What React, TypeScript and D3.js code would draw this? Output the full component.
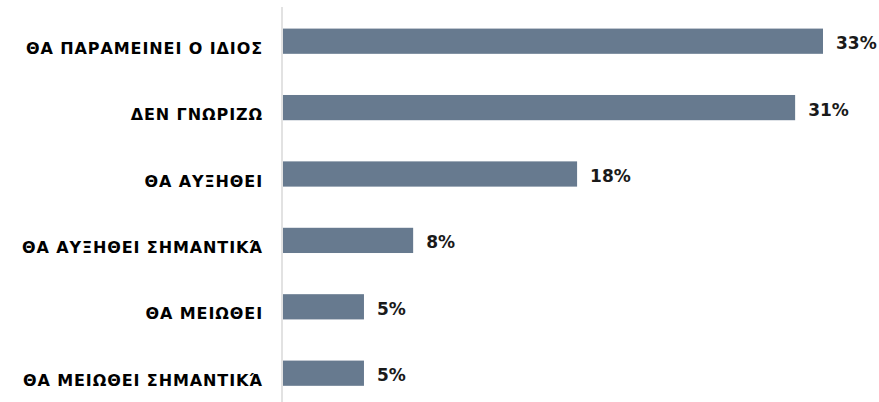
import * as d3 from "d3";

// answer categories, top to bottom
const categories = [
  "ΘΑ ΠΑΡΑΜΕΙΝΕΙ Ο ΙΔΙΟΣ",
  "ΔΕΝ ΓΝΩΡΙΖΩ",
  "ΘΑ ΑΥΞΗΘΕΙ",
  "ΘΑ ΑΥΞΗΘΕΙ ΣΗΜΑΝΤΙΚΆ",
  "ΘΑ ΜΕΙΩΘΕΙ",
  "ΘΑ ΜΕΙΩΘΕΙ ΣΗΜΑΝΤΙΚΆ",
];
// share of answers (%)
const values = [33, 31.3, 18, 8, 5, 5];

const width = 879;
const height = 402;
const marginLeft = 282;
const marginTop = 8;
const bandStep = 66.4;

export default function App() {
  const x = d3.scaleLinear().domain([0, 33]).range([marginLeft, marginLeft + 541]);
  const y = d3
    .scaleBand<string>()
    .domain(categories)
    .range([marginTop, marginTop + bandStep * categories.length])
    .paddingInner(0.62)
    .paddingOuter(0.31);

  return (
    <svg
      width={width}
      height={height}
      style={{ position: "absolute", left: 0, top: 0, background: "#fff" }}
    >
      {/* axis line */}
      <line x1={marginLeft} x2={marginLeft} y1={7} y2={height} stroke="#d9d9d9" strokeWidth={1.5} />
      {categories.map((c, i) => {
        const y0 = y(c)!;
        const bh = y.bandwidth();
        return (
          <g key={c}>
            <rect x={x(0) + 1} y={y0} width={x(values[i]) - x(0) - 1} height={bh} fill="#677a8f" />
            <text
              x={263}
              y={y0 + bh}
              textAnchor="end"
              fontFamily="DejaVu Sans"
              fontWeight="bold"
              fontSize={16}
              letterSpacing={0.9}
              fill="#000"
            >
              {c}
            </text>
            <text
              x={x(values[i]) + 13}
              y={y0 + bh / 2 + 2}
              dominantBaseline="central"
              fontFamily="DejaVu Sans"
              fontWeight="bold"
              fontSize={17}
              fill="#1a1a1a"
            >
              {Math.round(values[i])}%
            </text>
          </g>
        );
      })}
    </svg>
  );
}
